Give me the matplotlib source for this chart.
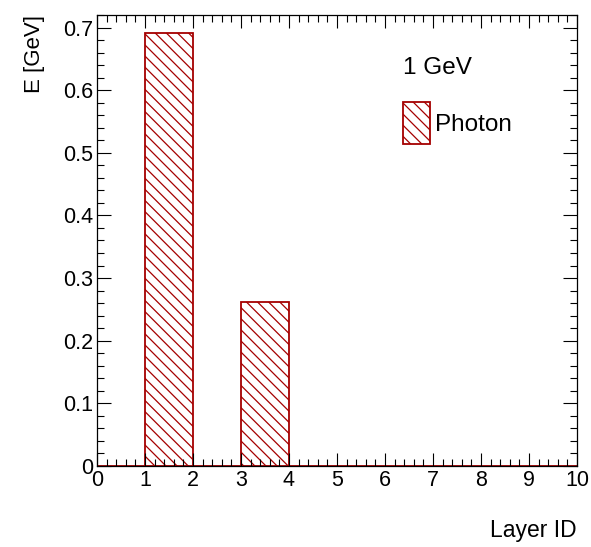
import numpy as np
import matplotlib.pyplot as plt
from matplotlib.ticker import MultipleLocator

# energy per layer, 1 GeV photon
layer_edges = [0, 1, 2, 3, 4, 5, 6, 7, 8, 9]
energy = [0.0, 0.692, 0.0, 0.262, 0.0, 0.0, 0.0, 0.0, 0.0, 0.0]

red = "#a50000"
plt.rcParams["font.family"] = ["Liberation Sans", "DejaVu Sans"]
plt.rcParams["hatch.linewidth"] = 0.9
plt.rcParams["hatch.color"] = red

fig = plt.figure(figsize=(5.91, 5.47), dpi=100)
ax = fig.add_axes([0.1641, 0.1481, 0.8122, 0.8245])

bars = ax.bar(layer_edges, energy, width=1.0, align="edge", facecolor="none",
              edgecolor=red, linewidth=1.3, hatch="\\\\\\", label="Photon")

ax.set_xlim(0, 10)
ax.set_ylim(0, 0.72)
ax.xaxis.set_major_locator(MultipleLocator(1))
ax.xaxis.set_minor_locator(MultipleLocator(0.2))
ax.yaxis.set_major_locator(MultipleLocator(0.1))
ax.yaxis.set_minor_locator(MultipleLocator(0.02))
ax.set_yticks(np.arange(0, 0.71, 0.1))
ax.set_yticklabels(["0", "0.1", "0.2", "0.3", "0.4", "0.5", "0.6", "0.7"])

ax.tick_params(which="both", direction="in", top=True, right=True, width=0.8,
               labelsize=15.5, colors="black")
ax.tick_params(axis="x", which="major", length=9.5, pad=3)
ax.tick_params(axis="x", which="minor", length=4.7)
ax.tick_params(axis="y", which="major", length=10, pad=3)
ax.tick_params(axis="y", which="minor", length=5)
for s in ax.spines.values():
    s.set_linewidth(0.9)

ax.set_xlabel("Layer ID", fontsize=16.5, loc="right", labelpad=20)
ax.set_ylabel("E [GeV]", fontsize=16, loc="top", labelpad=13)

ax.text(0.6375, 0.8825, "1 GeV", transform=ax.transAxes, fontsize=17.5,
        ha="left", va="center")
ax.legend(loc="upper left", bbox_to_anchor=(0.6375, 0.807), frameon=False,
          fontsize=17.5, handlelength=1.1, handleheight=2.3, handletextpad=0.2,
          borderpad=0, borderaxespad=0)

fig.savefig("out.png", dpi=100)
